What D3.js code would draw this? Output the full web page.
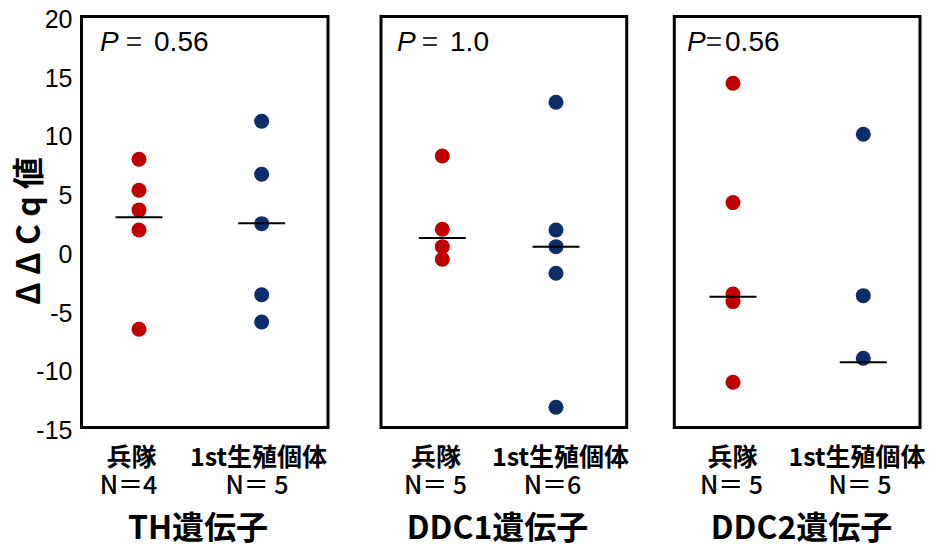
<!DOCTYPE html>
<html>
<head>
<meta charset="utf-8">
<script src="https://cdn.jsdelivr.net/npm/d3@7"></script>
<style>
    body { margin: 0; background: #fff; }
    svg { display: block; }
</style>
</head>
<body>
<svg id="chart" width="935" height="550"></svg>
<script>
// data
let groups = ["兵隊", "1st生殖個体"];
let genes = ["TH遺伝子", "DDC1遺伝子", "DDC2遺伝子"];
let pValues = ["0.56", "1.0", "0.56"];
let nLabels = [["N＝4", "N＝ 5"], ["N＝ 5", "N＝6"], ["N＝ 5", "N＝ 5"]];
let soldierValues = [[7.84, 5.20, 3.53, 1.82, -6.63], [8.12, 1.88, 0.40, -0.67], [14.31, 4.15, -3.63, -4.28, -11.15]];
let reproValues = [[11.08, 6.57, 2.36, -3.69, -6.01], [12.70, 1.82, 0.40, -1.86, -13.28], [9.97, -3.77, -9.10]];
let soldierMedians = [2.90, 1.14, -3.86];
let reproMedians = [2.39, 0.40, -9.44];
let yTicks = [-15, -10, -5, 0, 5, 10, 15, 20];

// layout of the three boxes (not data)
let panels = [
    {left: 81.5, right: 328, dots: [57.5, 180.2], cat: [131.5, 258.5], n: [128.5, 257], title: 198, pX: 18.5, pGap: [7, 12]},
    {left: 381, right: 626.7, dots: [61.3, 175], cat: [436, 560.5], n: [435.5, 552.5], title: 497.5, pX: 16, pGap: [6, 12]},
    {left: 674.3, right: 920, dots: [58.7, 189], cat: [732.5, 857], n: [731.5, 860], title: 801.5, pX: 12.7, pGap: [0, 3]}
];
let colors = ["#c00000", "#0c2c6a"];
let cjk = "'Noto Sans CJK JP', 'Noto Sans', sans-serif";

let svg = d3.select("#chart");

let yScale = d3.scaleLinear()
    .domain([-15, 20])
    .range([427.5, 16.5]);

// y axis on the left of the first box
let yAxis = d3.axisLeft(yScale)
    .tickValues(yTicks)
    .tickFormat(d => String(d))
    .tickSize(0)
    .tickPadding(9);

let axisG = svg.append("g")
    .attr("transform", `translate(${panels[0].left}, 0)`)
    .call(yAxis);
axisG.select(".domain").remove();
axisG.selectAll("text")
    .attr("transform", "translate(0, 3)")
    .style("font-family", "'Liberation Sans', Arial, sans-serif")
    .style("font-size", "25px")
    .attr("fill", "#000");

svg.append("text")
    .attr("transform", "translate(26, 231) rotate(-90)")
    .attr("text-anchor", "middle")
    .attr("dominant-baseline", "central")
    .style("font-family", cjk)
    .style("font-size", "32px")
    .style("font-weight", "bold")
    .text("Δ Δ C q 値");

panels.forEach((p, i) => {
    let g = svg.append("g");

    let xScale = d3.scaleOrdinal()
        .domain(groups)
        .range([p.left + p.dots[0], p.left + p.dots[1]]);

    // box
    g.append("rect")
        .attr("x", p.left)
        .attr("y", yScale(20))
        .attr("width", p.right - p.left)
        .attr("height", yScale(-15) - yScale(20))
        .attr("fill", "none")
        .attr("stroke", "#000")
        .attr("stroke-width", 3);

    // dots
    let series = [soldierValues[i], reproValues[i]];
    series.forEach((vals, k) => {
        g.selectAll(".dot" + k)
            .data(vals)
            .enter()
            .append("circle")
            .attr("class", "dot" + k)
            .attr("cx", xScale(groups[k]))
            .attr("cy", d => yScale(d))
            .attr("r", 7.5)
            .attr("fill", colors[k]);
    });

    // median lines
    let meds = [soldierMedians[i], reproMedians[i]];
    g.selectAll(".med")
        .data(meds)
        .enter()
        .append("line")
        .attr("class", "med")
        .attr("x1", (d, k) => xScale(groups[k]) - 23.5)
        .attr("x2", (d, k) => xScale(groups[k]) + 23.5)
        .attr("y1", d => yScale(d))
        .attr("y2", d => yScale(d))
        .attr("stroke", "#000")
        .attr("stroke-width", 2);

    // P value
    let pt = g.append("text")
        .attr("x", p.left + p.pX)
        .attr("y", 51)
        .style("font-family", "'Liberation Sans', Arial, sans-serif")
        .style("font-size", "28px");
    pt.append("tspan").style("font-style", "italic").text("P");
    pt.append("tspan").attr("dx", p.pGap[0]).attr("fill", "#333").text("=");
    pt.append("tspan").attr("dx", p.pGap[1]).text(pValues[i]);

    // group labels
    groups.forEach((name, k) => {
        g.append("text")
            .attr("x", p.cat[k])
            .attr("y", 466)
            .attr("text-anchor", "middle")
            .style("font-family", cjk)
            .style("font-size", "25px")
            .style("font-weight", "bold")
            .text(name);
        g.append("text")
            .attr("x", p.n[k])
            .attr("y", 494)
            .attr("text-anchor", "middle")
            .style("font-family", cjk)
            .style("font-size", "25px")
            .style("font-weight", "500")
            .text(nLabels[i][k]);
    });

    // gene title
    g.append("text")
        .attr("x", p.title)
        .attr("y", 539)
        .attr("text-anchor", "middle")
        .style("font-family", cjk)
        .style("font-size", "32px")
        .style("font-weight", "bold")
        .text(genes[i]);
});
</script>
</body>
</html>
